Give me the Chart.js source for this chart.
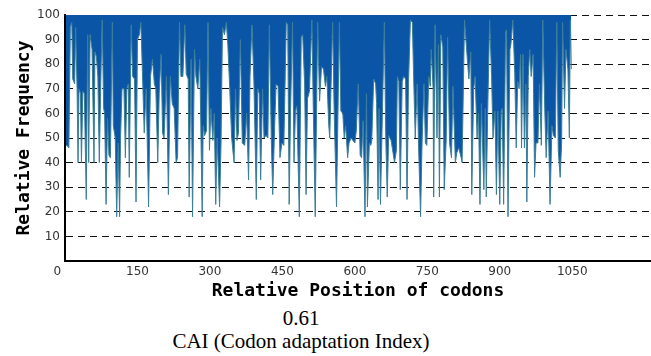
<!DOCTYPE html>
<html>
<head>
<meta charset="utf-8">
<script src="https://cdn.jsdelivr.net/npm/chart.js@4.4.1/dist/chart.umd.min.js"></script>
<style>
  html, body { margin: 0; padding: 0; background: #fff; }
  #wrap { position: relative; width: 651px; height: 356px; overflow: hidden; }
  #chartCai { position: absolute; left: 0; top: 0; }
  .cap { position: absolute; left: 151px; width: 300px; text-align: center;
         font-family: "Liberation Serif", "Times New Roman", serif; font-size: 21px;
         line-height: 21px; color: #000; }
</style>
</head>
<body>
<div id="wrap">
  <canvas id="chartCai" width="651" height="305"></canvas>
  <div class="cap" style="top:308px">0.61</div>
  <div class="cap" style="top:331px">CAI (Codon adaptation Index)</div>
</div>
<script>
// ─── DONNÉES ───
const codonPos = [
  2, 4, 8, 11, 14, 16, 20, 22, 25, 27, 29, 32, 34, 37, 40, 44, 47, 49, 52, 56,
  60, 62, 65, 68, 71, 74, 77, 80, 82, 85, 88, 91, 94, 98, 100, 104, 107, 110, 113, 115,
  118, 122, 125, 128, 131, 133, 137, 140, 144, 147, 150, 154, 157, 161, 164, 168, 173, 177, 181, 185,
  188, 192, 195, 199, 202, 205,
  210, 214, 218, 222, 226, 230, 233, 237, 240, 244, 248, 251, 255, 257, 261, 264, 268, 271, 275, 279,
  284, 286, 289, 293, 296, 299, 302, 306, 309, 312, 315, 320, 323, 326, 330, 334, 337, 341, 345, 350,
  353, 356, 359, 363, 367, 372, 376, 380, 383, 387, 391, 396, 399, 402, 405, 409, 412, 416, 420,
  423, 427, 430, 434, 437, 441, 445, 449, 453, 458, 461, 464, 467, 471, 474, 477, 480, 485, 489, 492,
  496, 499, 502, 506, 511, 514, 518, 523, 527, 531, 535, 539, 542, 546, 548, 554, 557, 562, 568, 571,
  575, 578, 581, 585, 588, 592, 596, 600, 603, 607, 611, 614, 617, 621, 624, 626, 630, 633,
  635, 639, 643, 645, 648, 650, 653, 657, 661, 664, 667, 670, 675, 679, 682, 686, 688, 691, 694, 698,
  701, 705, 708, 711, 715, 719, 722, 725, 729, 732, 736, 739, 743, 746, 749, 753, 756, 758, 762, 763,
  766, 770, 773, 775, 778, 782, 785, 789, 792, 796, 800, 803, 808, 811, 815, 820, 822, 827, 832, 836,
  840, 842, 846,
  849, 853, 856, 859, 862, 867, 870, 872, 875, 879, 883, 886, 890, 893, 896, 900, 903, 905, 908, 912,
  914, 917, 921, 923, 927, 931, 934, 937, 940, 943, 945, 948, 951, 954, 956, 959, 962, 965, 969, 972,
  975, 979, 982, 986, 989, 993, 996, 1000, 1004, 1008, 1011, 1015, 1018, 1021, 1025, 1028, 1030, 1034, 1037, 1041,
  1044, 1046, 1048
];
const relFreq = [
  47, 47, 46, 95, 97, 74, 72, 95, 70, 40, 70, 68, 40, 69, 68, 25, 92, 40, 92, 86,
  40, 85, 83, 75, 40, 72, 98, 62, 60, 23, 58, 43, 42, 97, 55, 50, 18, 48, 18, 50,
  70, 70, 42, 70, 72, 34, 96, 75, 74, 24, 90, 92, 97, 72, 52, 70, 22, 75, 82, 72,
  70, 40, 68, 84, 52, 50,
  75, 27, 75, 64, 62, 40, 42, 97, 75, 75, 96, 76, 74, 26, 82, 18, 86, 75, 70, 82,
  18, 55, 51, 53, 97, 45, 62, 49, 60, 23, 50, 22, 48, 95, 92, 97, 88, 70, 50, 40,
  70, 49, 52, 90, 48, 47, 60, 33, 75, 96, 73, 25, 70, 68, 33, 70, 50, 51, 50,
  96, 50, 27, 55, 72, 71, 42, 48, 47, 97, 96, 23, 62, 97, 40, 61, 63, 18, 91, 92,
  72, 27, 66, 69, 98, 61, 18, 97, 65, 79, 78, 71, 75, 55, 50, 97, 62, 22, 97, 61,
  60, 50, 55, 42, 48, 50, 49, 48, 53, 72, 43, 42, 57, 18, 68, 22, 48, 47,
  49, 74, 72, 64, 25, 62, 23, 60, 97, 50, 26, 51, 49, 44, 40, 45, 75, 73, 29, 73,
  75, 74, 25, 72, 98, 97, 72, 50, 72, 46, 18, 47, 72, 48, 47, 75, 71, 86, 70, 26,
  96, 50, 88, 26, 92, 87, 29, 49, 91, 48, 42, 71, 40, 44, 46, 42, 40, 98, 84, 74,
  85, 27, 70,
  75, 50, 60, 23, 64, 29, 62, 26, 61, 98, 75, 50, 61, 27, 61, 23, 61, 62, 23, 93,
  94, 18, 86, 88, 98, 76, 46, 73, 70, 84, 46, 84, 46, 72, 24, 75, 86, 75, 84, 34,
  48, 48, 72, 47, 98, 62, 42, 61, 23, 55, 51, 50, 97, 45, 34, 48, 97, 62, 86, 78,
  50, 98, 78
];
const xTickValues = [0, 150, 300, 450, 600, 750, 900, 1050];

const blueFill = '#0a55a6';
const spikeLine = '#3a7e98';
const tickFont = { family: 'DejaVu Sans', size: 12 };
const titleFont = { family: 'DejaVu Sans Mono', size: 18, weight: 'bold' };

const points = codonPos.map((c, i) => ({ x: c, y: relFreq[i] }));

new Chart(document.getElementById('chartCai'), {
  type: 'line',
  data: {
    datasets: [{
      data: points,
      borderColor: spikeLine,
      borderWidth: 1,
      backgroundColor: blueFill,
      fill: 'end',
      pointRadius: 0,
      tension: 0
    }]
  },
  options: {
    responsive: false,
    animation: false,
    devicePixelRatio: 1,
    layout: { padding: { top: 15, right: 0, left: 0, bottom: 0 } },
    plugins: { legend: { display: false }, tooltip: { enabled: false } },
    scales: {
      x: {
        type: 'linear',
        min: 0,
        max: 1213,
        afterBuildTicks: s => { s.ticks = xTickValues.map(v => ({ value: v })); },
        afterFit: s => { s.height = 44; },
        grid: { display: false, drawTicks: false },
        border: { display: true, color: '#000', width: 2 },
        ticks: {
          padding: 4,
          color: '#333',
          font: tickFont,
          maxRotation: 0,
          callback: v => (v === 0 ? '0    ' : String(v))
        },
        title: {
          display: true,
          text: 'Relative Position of codons',
          color: '#000',
          font: titleFont,
          padding: 3
        }
      },
      y: {
        min: 0,
        max: 100,
        z: 1,
        afterFit: s => { s.width = 65; },
        grid: {
          drawTicks: false,
          color: ctx => (ctx.tick && ctx.tick.value === 0 ? 'rgba(0,0,0,0)' : '#111'),
          lineWidth: 1
        },
        border: { display: true, color: '#000', width: 2, dash: [7, 5] },
        ticks: {
          stepSize: 10,
          padding: 5,
          color: '#333',
          font: tickFont,
          callback: v => (v === 0 ? '' : String(v))
        },
        title: {
          display: true,
          text: 'Relative Frequency',
          color: '#000',
          font: titleFont,
          padding: 14
        }
      }
    }
  }
});
</script>
</body>
</html>
